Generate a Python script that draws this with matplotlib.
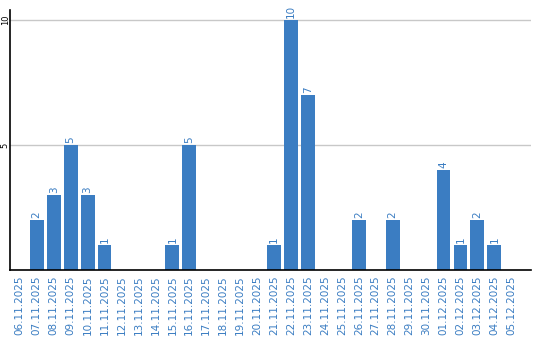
import numpy as np
import matplotlib.pyplot as plt

dates = ['06.11.2025', '07.11.2025', '08.11.2025', '09.11.2025', '10.11.2025',
         '11.11.2025', '12.11.2025', '13.11.2025', '14.11.2025', '15.11.2025',
         '16.11.2025', '17.11.2025', '18.11.2025', '19.11.2025', '20.11.2025',
         '21.11.2025', '22.11.2025', '23.11.2025', '24.11.2025', '25.11.2025',
         '26.11.2025', '27.11.2025', '28.11.2025', '29.11.2025', '30.11.2025',
         '01.12.2025', '02.12.2025', '03.12.2025', '04.12.2025', '05.12.2025']
values = [0, 2, 3, 5, 3, 1, 0, 0, 0, 1, 5, 0, 0, 0, 0,
          1, 10, 7, 0, 0, 2, 0, 2, 0, 0, 4, 1, 2, 1, 0]

blue = '#3b7dc2'

fig = plt.figure(figsize=(5.4, 3.4), dpi=100)
ax = fig.add_axes([0.0194, 0.206, 0.9636, 0.764])

x = np.arange(len(dates))
bars = ax.bar(x, values, width=0.82, color=blue, zorder=2)

for xi, v in zip(x, values):
    if v > 0:
        ax.text(xi, v + 0.08, str(v), rotation=90, ha='center', va='bottom',
                color=blue, fontsize=7.5)

ax.set_xlim(-0.55, 30.15)
ax.set_ylim(0, 10.4)
ax.set_xticks(x)
ax.set_xticklabels(dates, rotation=90, color=blue, fontsize=7.5)
ax.tick_params(axis='x', length=0, pad=4)
ax.set_yticks([5, 10])
ax.set_yticklabels(['5', '10'], rotation=90, va='center', fontsize=6)
ax.tick_params(axis='y', length=0, pad=0.5)
ax.yaxis.grid(True, color='#c8c8c8', linewidth=1, zorder=0)
ax.spines['top'].set_visible(False)
ax.spines['right'].set_visible(False)
ax.spines['left'].set_linewidth(1.2)
ax.spines['bottom'].set_linewidth(1.2)

fig.savefig('out.png', dpi=100)
